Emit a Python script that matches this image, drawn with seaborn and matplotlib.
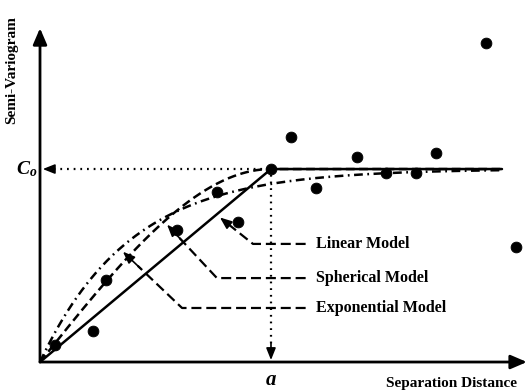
import numpy as np
import pandas as pd
import matplotlib.pyplot as plt
import seaborn as sns

# parâmetros do modelo
a = 10.0          # alcance
c0 = 1.0          # patamar
h_max = 20.0      # fim das curvas
r_exp = 11.7      # alcance prático do exponencial

dist = [0.65, 2.29, 2.86, 5.93, 7.66, 8.57, 10.0, 10.87, 11.95, 13.72, 14.98, 16.28, 17.14, 19.31, 20.61]
gamma = [0.088, 0.16, 0.425, 0.684, 0.88, 0.725, 1.0, 1.166, 0.904, 1.06, 0.979, 0.979, 1.083, 1.653, 0.596]

model_names = ['Linear Model', 'Spherical Model', 'Exponential Model']
# onde cada seta toca a curva / dobra / altura do texto
tip_x = [7.79, 5.50, 3.59]
bend_x = [9.22, 7.66, 6.15]
label_y = [0.612, 0.435, 0.28]


def linear(h):
    return c0 * np.minimum(h / a, 1.0)


def spherical(h):
    r = np.minimum(h / a, 1.0)
    return c0 * (1.5 * r - 0.5 * r ** 3)


def exponential(h):
    return c0 * (1 - np.exp(-3 * h / r_exp))


models = {'Linear Model': linear, 'Spherical Model': spherical, 'Exponential Model': exponential}

h = np.linspace(0, h_max, 400)
curvas = pd.concat([pd.DataFrame({'h': h, 'gamma': f(h), 'model': nome}) for nome, f in models.items()])
pontos = pd.DataFrame({'dist': dist, 'gamma': gamma})

sns.set_style('white')
plt.rcParams['font.family'] = ['Liberation Serif', 'DejaVu Serif']
plt.rcParams['text.color'] = 'black'
plt.rcParams['mathtext.fontset'] = 'custom'
plt.rcParams['mathtext.it'] = 'Liberation Serif:italic:bold'
plt.rcParams['mathtext.rm'] = 'Liberation Serif:bold'

fig = plt.figure(figsize=(5.29, 3.90), dpi=100)
ax = fig.add_axes([0, 0, 1, 1])
ax.set_xlim(-1.732, 21.17)
ax.set_ylim(-0.145, 1.876)
ax.axis('off')

sns.lineplot(data=curvas, x='h', y='gamma', style='model', style_order=model_names,
             dashes={'Linear Model': '', 'Spherical Model': (3.5, 1.8),
                     'Exponential Model': (3.5, 1.8, 0.7, 1.8)},
             color='k', lw=1.8, legend=False, ax=ax, zorder=3)
sns.scatterplot(data=pontos, x='dist', y='gamma', color='k', s=60, edgecolor='k', zorder=5, ax=ax)


def ponta(xy, de, ms=13):
    ax.annotate('', xy=xy, xytext=de,
                arrowprops=dict(arrowstyle='-|>,head_length=0.55,head_width=0.22', color='k',
                                lw=1.2, shrinkA=0, shrinkB=0, mutation_scale=ms), zorder=6)


# eixos com setas
ax.annotate('', xy=(0, 1.73), xytext=(0, 0),
            arrowprops=dict(arrowstyle='-|>,head_length=0.7,head_width=0.3', color='k', lw=2,
                            shrinkA=0, shrinkB=0, mutation_scale=14))
ax.annotate('', xy=(21.08, 0), xytext=(0, 0),
            arrowprops=dict(arrowstyle='-|>,head_length=0.7,head_width=0.3', color='k', lw=2,
                            shrinkA=0, shrinkB=0, mutation_scale=14))

# linhas pontilhadas até C0 e a
ax.plot([0.3, a], [c0, c0], color='k', lw=1.6, ls=(0, (0.8, 2.2)))
ax.plot([a, a], [0.06, c0], color='k', lw=1.6, ls=(0, (0.8, 2.2)))
ponta((0.12, c0), (0.6, c0))
ponta((a, 0.01), (a, 0.1))

# chamadas dos modelos
for nome, tx, bx, ly in zip(model_names, tip_x, bend_x, label_y):
    ty = models[nome](tx) - 0.03
    ax.plot([11.5, bx, tx + 0.25 * (bx - tx)], [ly, ly, ty + 0.25 * (ly - ty)],
            color='k', lw=1.6, ls=(0, (4.5, 2.2)), zorder=4)
    ponta((tx, ty), (tx + 0.3 * (bx - tx), ty + 0.3 * (ly - ty)))
    ax.text(11.95, ly, nome, fontsize=11.5, fontweight='bold', va='center', ha='left', color='k')

ax.text(-1.21, 1.513, 'Semi-Variogram', rotation=90, fontsize=11, fontweight='bold',
        ha='center', va='center', color='k')
ax.text(17.81, -0.112, 'Separation Distance', fontsize=11, fontweight='bold', ha='center',
        va='center', color='k')
ax.text(-0.56, c0, r'$C_o$', fontsize=14, ha='center', va='center', color='k')
ax.text(a, -0.095, r'$a$', fontsize=15, ha='center', va='center', color='k')

plt.savefig('out.png', dpi=100)
